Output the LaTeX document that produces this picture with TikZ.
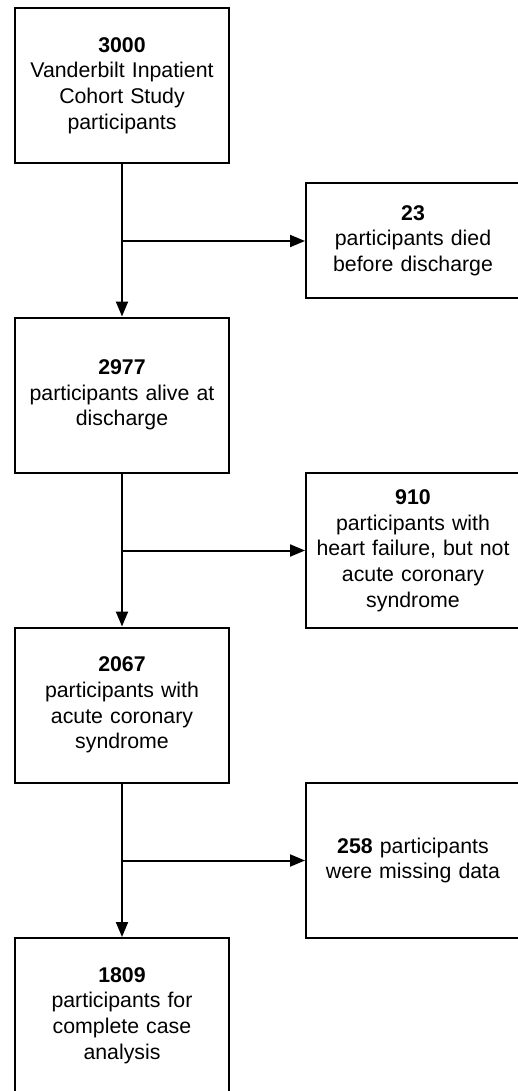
\documentclass[tikz,border=0pt]{standalone}
\usepackage{fontspec}
\setmainfont{Liberation Sans}
\usetikzlibrary{arrows.meta}
\begin{document}
\begin{tikzpicture}[x=1pt,y=-1pt,
  box/.style={draw, line width=2pt, minimum width=214pt, minimum height=155pt,
    text width=210pt, align=center, inner sep=0pt,
    font=\fontsize{21.3}{25.7}\selectfont},
  sidebox/.style={box},
  arr/.style={line width=2pt, -{Triangle[length=15pt,width=12pt]}}]
\useasboundingbox (0,0) rectangle (517,1091);
\node[box] (b1) at (122,85.5) {\textbf{3000}\\Vanderbilt Inpatient\\Cohort Study\\participants};
\node[box] (b2) at (122,395) {\textbf{2977}\\participants alive at\\discharge};
\node[box] (b3) at (122,705) {\textbf{2067}\\participants with\\acute coronary\\syndrome};
\node[box] (b4) at (122,1015.5) {\textbf{1809}\\participants for\\complete case\\analysis};
\node[sidebox, minimum height=115pt] (r1) at (413,240.5) {\textbf{23}\\participants died\\before discharge};
\node[sidebox] (r2) at (413,550.5) {\textbf{910}\\participants with\\heart failure, but not\\acute coronary\\syndrome};
\node[sidebox] (r3) at (413,860.5) {\textbf{258} participants\\were missing data};
\coordinate (j1) at (122,241);
\coordinate (j2) at (122,550.5);
\coordinate (j3) at (122,860.5);
\draw[arr] (b1) -- (b2);
\draw[arr] (b2) -- (b3);
\draw[arr] (b3) -- (b4);
\draw[arr] (j1) -- (j1 -| r1.west);
\draw[arr] (j2) -- (j2 -| r2.west);
\draw[arr] (j3) -- (j3 -| r3.west);
\end{tikzpicture}
\end{document}
